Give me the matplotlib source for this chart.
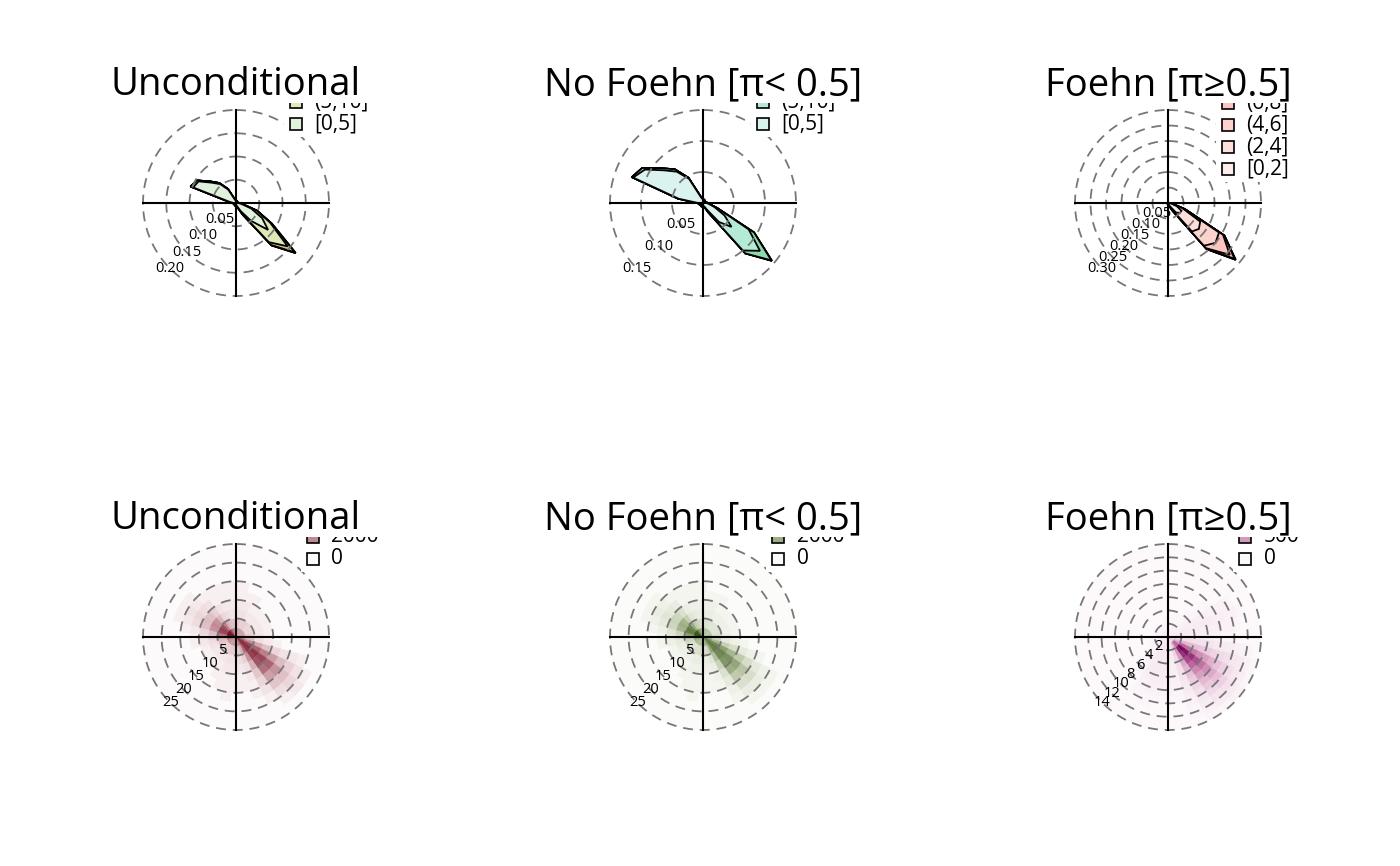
import numpy as np
import matplotlib
matplotlib.use("Agg")
import matplotlib.pyplot as plt
from matplotlib.colors import LinearSegmentedColormap, PowerNorm
from matplotlib.patches import Rectangle
from matplotlib.transforms import Bbox, TransformedBbox

plt.rcParams['font.family'] = ['Open Sans', 'DejaVu Sans']

# ---------------------------------------------------------------- data
# wind direction bins (deg, meteorological), 10 degree sectors
dirs = np.arange(0, 360, 10)

titles = ['Unconditional', 'No Foehn [\u03c0< 0.5]', 'Foehn [\u03c0\u22650.5]']

# --- top row: density wind roses, density per speed class and direction
unc_classes = ['[0,5]', '(5,10]', '(10,15]', '(15,20]', '(20,25]', '(25,30]']
unc_density = [
    [0.005, 0.004, 0.004, 0.003, 0.003, 0.003, 0.003, 0.003, 0.004, 0.005, 0.012, 0.035,
     0.065, 0.090, 0.050, 0.020, 0.008, 0.005, 0.005, 0.005, 0.005, 0.004, 0.004, 0.004,
     0.004, 0.004, 0.005, 0.006, 0.014, 0.098, 0.093, 0.068, 0.053, 0.033, 0.008, 0.006],
    [0.001, 0.001, 0.001, 0.001, 0.001, 0.001, 0.001, 0.001, 0.001, 0.001, 0.002, 0.012,
     0.020, 0.055, 0.060, 0.008, 0.002, 0.001, 0.001, 0.001, 0.001, 0.001, 0.001, 0.001,
     0.001, 0.001, 0.001, 0.001, 0.002, 0.005, 0.004, 0.004, 0.003, 0.002, 0.001, 0.001],
    [0, 0, 0, 0, 0, 0, 0, 0, 0, 0, 0, 0.001, 0.004, 0.020, 0.008, 0.001, 0, 0,
     0, 0, 0, 0, 0, 0, 0, 0, 0, 0, 0, 0.001, 0, 0, 0, 0, 0, 0],
    [0, 0, 0, 0, 0, 0, 0, 0, 0, 0, 0, 0, 0, 0.002, 0.001, 0, 0, 0,
     0, 0, 0, 0, 0, 0, 0, 0, 0, 0, 0, 0, 0, 0, 0, 0, 0, 0],
    [0, 0, 0, 0, 0, 0, 0, 0, 0, 0, 0, 0, 0, 0.0005, 0, 0, 0, 0,
     0, 0, 0, 0, 0, 0, 0, 0, 0, 0, 0, 0, 0, 0, 0, 0, 0, 0],
    [0, 0, 0, 0, 0, 0, 0, 0, 0, 0, 0, 0, 0, 0, 0, 0, 0, 0,
     0, 0, 0, 0, 0, 0, 0, 0, 0, 0, 0, 0, 0, 0, 0, 0, 0, 0],
]
unc_colors = ['#e0f1dc', '#dde9b6', '#d6c487', '#c9a46c', '#b8875a', '#a0704c']

nof_classes = unc_classes
nof_density = [
    [0.006, 0.005, 0.004, 0.004, 0.003, 0.003, 0.003, 0.004, 0.005, 0.006, 0.010, 0.020,
     0.040, 0.060, 0.040, 0.012, 0.006, 0.005, 0.005, 0.005, 0.005, 0.005, 0.004, 0.004,
     0.005, 0.005, 0.006, 0.008, 0.040, 0.120, 0.108, 0.082, 0.066, 0.045, 0.010, 0.007],
    [0.001, 0.001, 0.001, 0.001, 0.001, 0.001, 0.001, 0.001, 0.001, 0.001, 0.001, 0.005,
     0.045, 0.060, 0.060, 0.006, 0.001, 0.001, 0.001, 0.001, 0.001, 0.001, 0.001, 0.001,
     0.001, 0.001, 0.001, 0.001, 0.001, 0.002, 0.005, 0.005, 0.005, 0.002, 0.001, 0.001],
    [0, 0, 0, 0, 0, 0, 0, 0, 0, 0, 0, 0, 0.010, 0.024, 0.006, 0, 0, 0,
     0, 0, 0, 0, 0, 0, 0, 0, 0, 0, 0, 0, 0, 0, 0, 0, 0, 0],
    [0, 0, 0, 0, 0, 0, 0, 0, 0, 0, 0, 0, 0, 0.001, 0, 0, 0, 0,
     0, 0, 0, 0, 0, 0, 0, 0, 0, 0, 0, 0, 0, 0, 0, 0, 0, 0],
    [0, 0, 0, 0, 0, 0, 0, 0, 0, 0, 0, 0, 0, 0, 0, 0, 0, 0,
     0, 0, 0, 0, 0, 0, 0, 0, 0, 0, 0, 0, 0, 0, 0, 0, 0, 0],
    [0, 0, 0, 0, 0, 0, 0, 0, 0, 0, 0, 0, 0, 0, 0, 0, 0, 0,
     0, 0, 0, 0, 0, 0, 0, 0, 0, 0, 0, 0, 0, 0, 0, 0, 0, 0],
]
nof_colors = ['#daf3ef', '#b3ebd7', '#8fd8ab', '#6cc08a', '#4fa56f', '#368a58']

foe_classes = ['[0,2]', '(2,4]', '(4,6]', '(6,8]', '(8,10]', '(10,12]', '(12,14]', '(14,16]']
foe_density = [
    [0.001, 0.001, 0.001, 0.001, 0.001, 0.001, 0.001, 0.001, 0.001, 0.003, 0.010, 0.030,
     0.050, 0.050, 0.040, 0.012, 0.004, 0.002, 0.002, 0.002, 0.002, 0.001, 0.001, 0.001,
     0.001, 0.001, 0.001, 0.001, 0.001, 0.001, 0.001, 0.001, 0.001, 0.001, 0.001, 0.001],
    [0, 0, 0, 0, 0, 0, 0, 0, 0, 0, 0.004, 0.020, 0.070, 0.080, 0.080, 0.010, 0.002, 0,
     0, 0, 0, 0, 0, 0, 0, 0, 0, 0, 0, 0, 0, 0, 0, 0, 0, 0],
    [0, 0, 0, 0, 0, 0, 0, 0, 0, 0, 0, 0.006, 0.070, 0.070, 0.060, 0.005, 0, 0,
     0, 0, 0, 0, 0, 0, 0, 0, 0, 0, 0, 0, 0, 0, 0, 0, 0, 0],
    [0, 0, 0, 0, 0, 0, 0, 0, 0, 0, 0, 0.002, 0.015, 0.060, 0.010, 0, 0, 0,
     0, 0, 0, 0, 0, 0, 0, 0, 0, 0, 0, 0, 0, 0, 0, 0, 0, 0],
    [0, 0, 0, 0, 0, 0, 0, 0, 0, 0, 0, 0, 0.005, 0.020, 0.003, 0, 0, 0,
     0, 0, 0, 0, 0, 0, 0, 0, 0, 0, 0, 0, 0, 0, 0, 0, 0, 0],
    [0, 0, 0, 0, 0, 0, 0, 0, 0, 0, 0, 0, 0, 0.004, 0.001, 0, 0, 0,
     0, 0, 0, 0, 0, 0, 0, 0, 0, 0, 0, 0, 0, 0, 0, 0, 0, 0],
    [0, 0, 0, 0, 0, 0, 0, 0, 0, 0, 0, 0, 0, 0.001, 0, 0, 0, 0,
     0, 0, 0, 0, 0, 0, 0, 0, 0, 0, 0, 0, 0, 0, 0, 0, 0, 0],
    [0, 0, 0, 0, 0, 0, 0, 0, 0, 0, 0, 0, 0, 0, 0, 0, 0, 0,
     0, 0, 0, 0, 0, 0, 0, 0, 0, 0, 0, 0, 0, 0, 0, 0, 0, 0],
]
foe_colors = ['#fdeeec', '#fde0db', '#fcd2cd', '#fbc4c0', '#f7b3b2', '#f0a0a3', '#e88c94', '#de7886']

# --- bottom row: 2d histograms (direction x speed), counts
# unconditional / no foehn: speed bins of 2.5 m/s, counts in hundreds
speed_edges_25 = [0, 2.5, 5, 7.5, 10, 12.5, 15, 17.5, 20, 22.5, 25]
unc_hist_hundreds = [
    [18, 8, 3, 2, 1, 1, 0, 0, 0, 0], [17, 7, 3, 2, 1, 1, 0, 0, 0, 0],
    [16, 6, 3, 2, 1, 0, 0, 0, 0, 0], [15, 6, 2, 1, 1, 0, 0, 0, 0, 0],
    [15, 6, 2, 1, 0, 0, 0, 0, 0, 0], [15, 5, 2, 1, 0, 0, 0, 0, 0, 0],
    [15, 5, 2, 1, 0, 0, 0, 0, 0, 0], [15, 5, 2, 1, 0, 0, 0, 0, 0, 0],
    [16, 6, 2, 1, 0, 0, 0, 0, 0, 0], [17, 7, 3, 1, 0, 0, 0, 0, 0, 0],
    [20, 10, 4, 2, 1, 0, 0, 0, 0, 0], [26, 20, 14, 9, 5, 3, 2, 1, 0, 0],
    [36, 34, 28, 22, 16, 10, 6, 3, 1, 0], [42, 40, 38, 34, 28, 18, 9, 5, 2, 0],
    [40, 38, 35, 31, 25, 15, 8, 4, 1, 0], [30, 26, 18, 12, 8, 5, 3, 1, 0, 0],
    [22, 12, 6, 3, 2, 1, 1, 0, 0, 0], [18, 8, 4, 2, 1, 1, 0, 0, 0, 0],
    [17, 7, 3, 2, 1, 1, 0, 0, 0, 0], [17, 7, 3, 2, 1, 1, 1, 0, 0, 0],
    [17, 7, 3, 2, 1, 1, 0, 0, 0, 0], [16, 6, 2, 1, 1, 0, 0, 0, 0, 0],
    [16, 6, 2, 1, 0, 0, 0, 0, 0, 0], [17, 6, 2, 1, 0, 0, 0, 0, 0, 0],
    [18, 7, 2, 1, 0, 0, 0, 0, 0, 0], [20, 8, 3, 1, 0, 0, 0, 0, 0, 0],
    [24, 10, 4, 2, 1, 0, 0, 0, 0, 0], [34, 14, 6, 3, 1, 0, 0, 0, 0, 0],
    [46, 24, 10, 5, 2, 1, 0, 0, 0, 0], [52, 34, 18, 9, 4, 2, 1, 0, 0, 0],
    [52, 36, 20, 10, 5, 3, 1, 0, 0, 0], [48, 32, 18, 9, 4, 2, 1, 0, 0, 0],
    [40, 22, 11, 6, 3, 1, 0, 0, 0, 0], [30, 12, 5, 3, 1, 1, 0, 0, 0, 0],
    [24, 10, 4, 2, 1, 1, 0, 0, 0, 0], [20, 9, 3, 2, 1, 1, 0, 0, 0, 0],
]
nof_hist_hundreds = [
    [16, 7, 3, 2, 1, 1, 0, 0, 0, 0], [15, 6, 3, 2, 1, 0, 0, 0, 0, 0],
    [14, 6, 3, 2, 1, 0, 0, 0, 0, 0], [14, 5, 2, 1, 1, 0, 0, 0, 0, 0],
    [14, 5, 2, 1, 0, 0, 0, 0, 0, 0], [13, 5, 2, 1, 0, 0, 0, 0, 0, 0],
    [13, 5, 2, 1, 0, 0, 0, 0, 0, 0], [14, 5, 2, 1, 0, 0, 0, 0, 0, 0],
    [15, 6, 2, 1, 0, 0, 0, 0, 0, 0], [16, 7, 3, 1, 0, 0, 0, 0, 0, 0],
    [19, 9, 4, 2, 1, 0, 0, 0, 0, 0], [24, 17, 11, 7, 4, 2, 1, 0, 0, 0],
    [32, 30, 24, 18, 12, 7, 4, 2, 1, 0], [36, 35, 32, 28, 22, 14, 7, 3, 1, 0],
    [34, 33, 30, 26, 20, 12, 6, 3, 1, 0], [26, 22, 15, 10, 6, 4, 2, 1, 0, 0],
    [20, 10, 5, 3, 2, 1, 0, 0, 0, 0], [17, 7, 3, 2, 1, 1, 0, 0, 0, 0],
    [16, 6, 3, 2, 1, 1, 0, 0, 0, 0], [16, 7, 3, 2, 1, 1, 1, 0, 0, 0],
    [16, 6, 3, 2, 1, 1, 0, 0, 0, 0], [15, 6, 2, 1, 1, 0, 0, 0, 0, 0],
    [15, 5, 2, 1, 0, 0, 0, 0, 0, 0], [16, 6, 2, 1, 0, 0, 0, 0, 0, 0],
    [17, 6, 2, 1, 0, 0, 0, 0, 0, 0], [19, 8, 3, 1, 0, 0, 0, 0, 0, 0],
    [23, 10, 4, 2, 1, 0, 0, 0, 0, 0], [33, 14, 6, 3, 1, 0, 0, 0, 0, 0],
    [45, 24, 10, 5, 2, 1, 0, 0, 0, 0], [51, 34, 18, 9, 4, 2, 1, 0, 0, 0],
    [51, 35, 20, 10, 5, 3, 1, 0, 0, 0], [47, 31, 18, 9, 4, 2, 1, 0, 0, 0],
    [39, 21, 11, 6, 3, 1, 0, 0, 0, 0], [29, 12, 5, 3, 1, 1, 0, 0, 0, 0],
    [23, 10, 4, 2, 1, 1, 0, 0, 0, 0], [19, 8, 3, 2, 1, 1, 0, 0, 0, 0],
]
# foehn: speed bins of 1 m/s, counts in tens
speed_edges_14 = list(range(0, 15))
foe_hist_tens = [
    [3, 1, 1, 0, 0, 0, 0, 0, 0, 0, 0, 0, 0, 0], [3, 1, 1, 0, 0, 0, 0, 0, 0, 0, 0, 0, 0, 0],
    [3, 1, 1, 1, 0, 0, 0, 0, 0, 0, 0, 0, 0, 0], [3, 2, 1, 1, 0, 0, 0, 0, 0, 0, 0, 0, 0, 0],
    [3, 2, 1, 1, 1, 0, 0, 0, 0, 0, 0, 0, 0, 0], [3, 2, 2, 2, 1, 1, 1, 1, 0, 0, 0, 0, 0, 0],
    [4, 3, 3, 3, 3, 3, 3, 2, 2, 2, 1, 0, 0, 0], [5, 4, 4, 4, 4, 4, 4, 3, 3, 2, 2, 1, 0, 0],
    [5, 5, 4, 4, 4, 3, 3, 3, 2, 2, 1, 0, 0, 0], [6, 6, 5, 4, 3, 3, 2, 2, 1, 1, 0, 0, 0, 0],
    [9, 11, 12, 11, 10, 9, 8, 6, 5, 4, 3, 2, 1, 0],
    [12, 26, 34, 32, 28, 24, 20, 16, 13, 10, 7, 5, 2, 1],
    [16, 50, 82, 76, 66, 56, 46, 36, 26, 18, 12, 7, 3, 1],
    [20, 82, 145, 134, 112, 92, 72, 56, 40, 28, 18, 10, 5, 2],
    [18, 72, 124, 112, 96, 78, 60, 46, 32, 22, 14, 8, 4, 1],
    [12, 36, 52, 48, 42, 34, 27, 21, 15, 10, 6, 4, 2, 1],
    [8, 14, 16, 14, 12, 10, 8, 6, 5, 3, 2, 1, 1, 0],
    [6, 6, 5, 4, 3, 3, 2, 2, 1, 1, 0, 0, 0, 0], [5, 5, 5, 4, 4, 3, 3, 2, 2, 1, 0, 0, 0, 0],
    [6, 6, 6, 5, 5, 4, 4, 3, 2, 1, 0, 0, 0, 0], [6, 6, 6, 6, 5, 5, 4, 3, 2, 1, 1, 0, 0, 0],
    [5, 5, 5, 5, 4, 4, 3, 2, 1, 1, 0, 0, 0, 0], [4, 3, 3, 2, 2, 1, 1, 0, 0, 0, 0, 0, 0, 0],
    [3, 2, 2, 1, 1, 0, 0, 0, 0, 0, 0, 0, 0, 0], [3, 2, 1, 1, 0, 0, 0, 0, 0, 0, 0, 0, 0, 0],
    [3, 1, 1, 0, 0, 0, 0, 0, 0, 0, 0, 0, 0, 0], [3, 1, 1, 0, 0, 0, 0, 0, 0, 0, 0, 0, 0, 0],
    [3, 1, 0, 0, 0, 0, 0, 0, 0, 0, 0, 0, 0, 0], [3, 1, 0, 0, 0, 0, 0, 0, 0, 0, 0, 0, 0, 0],
    [3, 1, 0, 0, 0, 0, 0, 0, 0, 0, 0, 0, 0, 0], [3, 1, 0, 0, 0, 0, 0, 0, 0, 0, 0, 0, 0, 0],
    [3, 1, 0, 0, 0, 0, 0, 0, 0, 0, 0, 0, 0, 0], [3, 1, 0, 0, 0, 0, 0, 0, 0, 0, 0, 0, 0, 0],
    [3, 1, 0, 0, 0, 0, 0, 0, 0, 0, 0, 0, 0, 0], [3, 1, 0, 0, 0, 0, 0, 0, 0, 0, 0, 0, 0, 0],
    [3, 1, 1, 0, 0, 0, 0, 0, 0, 0, 0, 0, 0, 0],
]

hist_levels_unc = [0, 2000, 4000, 6000, 8000, 10000]
hist_levels_foe = [0, 500, 1000, 1500, 2000, 2500]

# radial rings and labels
rings_unc = [0.05, 0.10, 0.15, 0.20]
rings_nof = [0.05, 0.10, 0.15]
rings_foe = [0.05, 0.10, 0.15, 0.20, 0.25, 0.30]
rings_25 = [5, 10, 15, 20, 25]
rings_14 = [2, 4, 6, 8, 10, 12, 14]

# ---------------------------------------------------------------- layout
W, H = 1400, 866
R = 93                      # radius of the rose in pixels
col_x = [236, 703, 1168]
row_y = [203, 637]

fig = plt.figure(figsize=(W / 100, H / 100), dpi=100)


def rose_axes(cx, cy, rmax):
    ax = fig.add_axes([(cx - R) / W, 1 - (cy + R) / H, 2 * R / W, 2 * R / H],
                      projection='polar')
    ax.set_theta_zero_location('N')
    ax.set_theta_direction(-1)
    ax.set_ylim(0, rmax)
    ax.set_axis_off()
    return ax


def rose_frame(ax, rings, fmt):
    rmax = rings[-1]
    th = np.linspace(0, 2 * np.pi, 721)
    for r in rings:
        ax.plot(th, np.full_like(th, r), color='#777777', lw=1.3,
                ls=(0, (5.5, 3.8)), clip_on=False, zorder=4)
        ax.text(np.deg2rad(225), r, fmt.format(r), ha='center', va='center',
                fontsize=10.5, zorder=6)
    for a in (0, 90, 180, 270):
        ax.plot([np.deg2rad(a)] * 2, [0, rmax], color='black', lw=1.5,
                clip_on=False, zorder=5)


def density_rose(ax, density, colors):
    cum = np.cumsum(np.array(density), axis=0)
    th = np.deg2rad(np.append(dirs, dirs[0]))
    for k in range(len(cum) - 1, -1, -1):
        r = np.append(cum[k], cum[k][0])
        ax.fill(th, r, facecolor=colors[k], edgecolor='black', lw=1.3, zorder=2)


def hist_rose(ax, table, scale, edges, cmap, norm):
    vals = np.array(table, dtype=float) * scale
    edges = np.array(edges, dtype=float)
    nd, ns = vals.shape
    theta = np.deg2rad(np.repeat(dirs, ns))
    bottom = np.tile(edges[:-1], nd)
    height = np.tile(np.diff(edges), nd)
    cols = cmap(norm(vals.ravel()))
    ax.bar(theta, height, width=np.deg2rad(10), bottom=bottom, color=cols,
           edgecolor=cols, linewidth=0.4, zorder=1)


def rose_legend(cx, cy, dx, dy0, labels, colors, width):
    clip_y = cy - 100
    clip = TransformedBbox(Bbox([[0, 0], [1, 1 - clip_y / H]]), fig.transFigure)
    bx = cx + dx
    ybot = cy + dy0
    bg = Rectangle(((bx - 12) / W, 1 - (ybot + 13) / H), width / W, (ybot + 13 - clip_y) / H,
                   transform=fig.transFigure, facecolor='white', edgecolor='none', zorder=1)
    bg.set_clip_box(clip)
    fig.add_artist(bg)
    for k, (lab, col) in enumerate(zip(labels, colors)):
        y = ybot - 22 * k
        if y + 9 < clip_y:      # entry lies wholly above the plot region: clipped away
            continue
        box = Rectangle(((bx - 6) / W, 1 - (y + 6) / H), 12 / W, 12 / H,
                        transform=fig.transFigure, facecolor=col,
                        edgecolor='black', lw=1.2, zorder=2)
        box.set_clip_box(clip)
        fig.add_artist(box)
        t = fig.text((bx + 19) / W, 1 - y / H, lab, fontsize=15,
                     ha='left', va='center', zorder=3)
        t.set_clip_box(clip)
        t.set_clip_on(True)


# ---------------------------------------------------------------- top row
top_specs = [
    (unc_density, unc_colors, unc_classes, rings_unc, -79),
    (nof_density, nof_colors, nof_classes, rings_nof, -79),
    (foe_density, foe_colors, foe_classes, rings_foe, -34),
]
for cx, (dens, cols, classes, rings, dy0) in zip(col_x, top_specs):
    cy = row_y[0]
    ax = rose_axes(cx, cy, rings[-1])
    density_rose(ax, dens, cols)
    rose_frame(ax, rings, '{:.2f}')
    rose_legend(cx, cy, 59.5, dy0, classes, cols, 110)

# ---------------------------------------------------------------- bottom row
cmap_unc = LinearSegmentedColormap.from_list(
    'unc', ['#fcfafa', '#efdde0', '#dcb9c0', '#c4919b', '#a9636f', '#8c3446', '#6e0f24'])
cmap_nof = LinearSegmentedColormap.from_list(
    'nof', ['#fbfbf9', '#e6eadd', '#c8d1b6', '#a3b38a', '#7b9160', '#557036', '#345010'])
cmap_foe = LinearSegmentedColormap.from_list(
    'foe', ['#fdf9fb', '#f2dde9', '#e4b9d2', '#d08fb7', '#b65e98', '#962c78', '#72004f'])
norm_big = PowerNorm(gamma=0.7, vmin=0, vmax=5000, clip=True)
norm_foe = PowerNorm(gamma=0.7, vmin=0, vmax=1500, clip=True)

bottom_specs = [
    (unc_hist_hundreds, 100, speed_edges_25, cmap_unc, norm_big, hist_levels_unc, rings_25, 76.5),
    (nof_hist_hundreds, 100, speed_edges_25, cmap_nof, norm_big, hist_levels_unc, rings_25, 75),
    (foe_hist_tens, 10, speed_edges_14, cmap_foe, norm_foe, hist_levels_foe, rings_14, 77),
]
for cx, (tab, scale, edges, cmap, norm, levels, rings, dx) in zip(col_x, bottom_specs):
    cy = row_y[1]
    ax = rose_axes(cx, cy, rings[-1])
    hist_rose(ax, tab, scale, edges, cmap, norm)
    rose_frame(ax, rings, '{:g}')
    lcols = [cmap(norm(v)) for v in levels]
    rose_legend(cx, cy, dx, -78, [str(v) for v in levels], lcols, 90)

# ---------------------------------------------------------------- titles
for cy in row_y:
    for cx, title in zip(col_x, titles):
        fig.text(cx / W, 1 - (cy - 108) / H, title, ha='center', va='baseline',
                 fontsize=27.5)

fig.savefig('out.png', dpi=100)
